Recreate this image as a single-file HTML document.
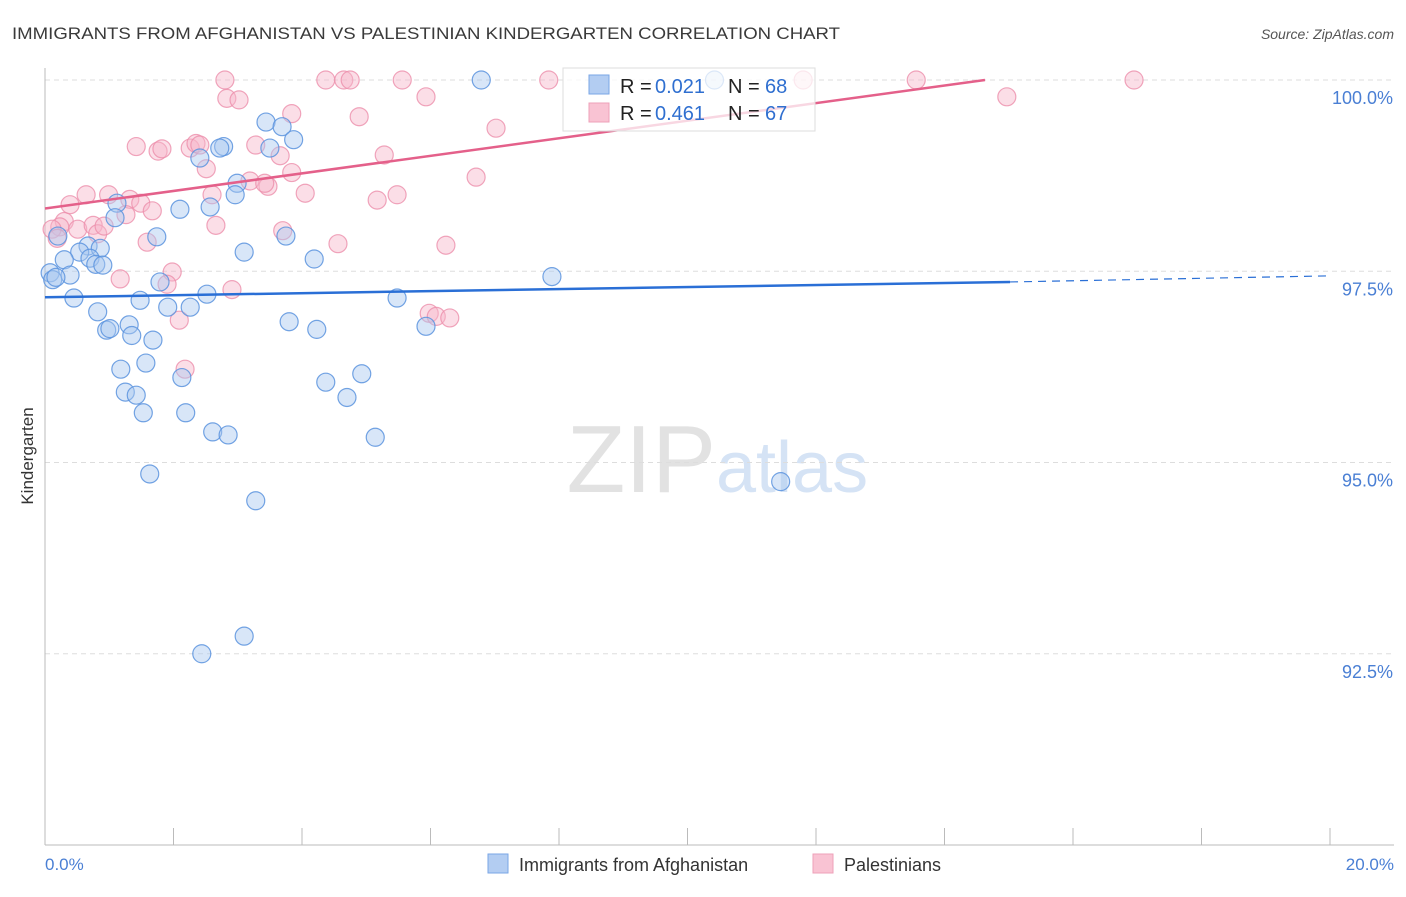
<!DOCTYPE html>
<html><head><meta charset="utf-8"><style>
body{margin:0;background:#fff;font-family:"Liberation Sans",sans-serif;}
svg text{font-family:"Liberation Sans",sans-serif;}
</style></head><body>
<svg width="1406" height="892" xmlns="http://www.w3.org/2000/svg">
<text x="12" y="39" font-size="17" textLength="828" lengthAdjust="spacingAndGlyphs" fill="#3a3a3a">IMMIGRANTS FROM AFGHANISTAN VS PALESTINIAN KINDERGARTEN CORRELATION CHART</text>
<text x="1394" y="39" font-size="14" fill="#555" font-style="italic" text-anchor="end">Source: ZipAtlas.com</text>
<text x="716" y="492" font-size="96" fill="#e2e2e2" font-family="Liberation Serif" text-anchor="end">ZIP</text>
<text x="716" y="492" font-size="72" fill="#d5e3f5">atlas</text>
<g id="grid"></g>
<line x1="45" y1="68" x2="45" y2="845" stroke="#bbb"/>
<line x1="45" y1="845" x2="1394" y2="845" stroke="#bbb"/>
<g id="xticks"></g>
<text x="33" y="456" font-size="17" fill="#333" transform="rotate(-90 33 456)" text-anchor="middle">Kindergarten</text>
<text x="45" y="870" font-size="17" fill="#4a7fd4">0.0%</text>
<text x="1394" y="870" font-size="17" fill="#4a7fd4" text-anchor="end">20.0%</text>
<g id="pts"></g>
<g id="lines"></g>
<g>
<rect x="563" y="68" width="252" height="63" fill="#fff" fill-opacity="0.75" stroke="#ddd"/>
<rect x="589" y="75" width="20" height="19" fill="#b3cdf2" stroke="#7aa6e6"/>
<rect x="589" y="103" width="20" height="19" fill="#f9c3d3" stroke="#eea0b8"/>
<text x="620" y="93" font-size="20" fill="#222">R =</text><text x="655" y="93" font-size="20" fill="#2f6fd0">0.021</text>
<text x="728" y="93" font-size="20" fill="#222">N =</text><text x="765" y="93" font-size="20" fill="#2f6fd0">68</text>
<text x="620" y="120" font-size="20" fill="#222">R =</text><text x="655" y="120" font-size="20" fill="#2f6fd0">0.461</text>
<text x="728" y="120" font-size="20" fill="#222">N =</text><text x="765" y="120" font-size="20" fill="#2f6fd0">67</text>
</g>
<g>
<rect x="488" y="854" width="20" height="19" fill="#b3cdf2" stroke="#7aa6e6"/>
<text x="519" y="871" font-size="18" fill="#333">Immigrants from Afghanistan</text>
<rect x="813" y="854" width="20" height="19" fill="#f9c3d3" stroke="#eea0b8"/>
<text x="844" y="871" font-size="18" fill="#333">Palestinians</text>
</g>
</svg>
<script>
const yTicks=[100,97.5,95,92.5];
const yTickLabels=["100.0%","97.5%","95.0%","92.5%"];
const xTickVals=[0,2,4,6,8,10,12,14,16,18,20];
const afgX=[6.79,10.42,3.44,3.69,3.87,2.78,2.72,3.50,2.41,2.99,2.96,2.10,2.57,1.12,1.09,0.20,1.74,0.67,0.86,0.54,3.10,3.75,4.19,0.30,0.70,0.79,0.90,0.39,0.08,0.12,0.17,1.79,7.89,2.52,0.45,1.48,2.26,1.91,5.48,0.82,3.80,4.23,5.93,0.96,1.31,1.01,1.35,1.68,1.18,1.57,4.93,2.13,4.37,1.25,1.42,4.70,1.53,2.19,2.61,2.85,5.14,1.63,11.45,3.28,3.10,2.44];
const afgY=[100.0,100.0,99.45,99.39,99.22,99.13,99.11,99.11,98.98,98.65,98.50,98.31,98.34,98.39,98.20,97.96,97.95,97.83,97.80,97.75,97.75,97.96,97.66,97.65,97.67,97.59,97.58,97.45,97.48,97.39,97.42,97.36,97.43,97.20,97.15,97.12,97.03,97.03,97.15,96.97,96.84,96.74,96.78,96.73,96.80,96.75,96.66,96.60,96.22,96.30,96.16,96.11,96.05,95.92,95.88,95.85,95.65,95.65,95.40,95.36,95.33,94.85,94.75,94.50,92.73,92.50];
const palX=[2.80,4.37,4.65,4.75,5.56,7.84,11.80,13.56,16.95,2.83,3.02,5.93,14.97,3.84,4.89,7.02,1.42,1.76,1.82,2.26,2.35,2.41,3.28,3.66,5.28,6.71,2.51,3.84,3.19,3.47,3.42,4.05,5.48,5.17,2.60,0.99,0.64,1.32,1.49,1.67,1.26,0.30,0.39,0.23,0.11,0.51,0.75,0.82,0.92,2.66,3.70,1.59,4.56,6.24,1.98,1.17,1.90,2.91,2.09,5.98,6.09,6.30,2.18,0.19];
const palY=[100.0,100.0,100.0,100.0,100.0,100.0,100.0,100.0,100.0,99.76,99.74,99.78,99.78,99.56,99.52,99.37,99.13,99.07,99.10,99.11,99.17,99.15,99.15,99.01,99.02,98.73,98.84,98.79,98.68,98.61,98.65,98.52,98.50,98.43,98.50,98.50,98.50,98.44,98.39,98.29,98.24,98.15,98.37,98.08,98.05,98.05,98.10,97.99,98.09,98.10,98.03,97.88,97.86,97.84,97.49,97.40,97.33,97.26,96.86,96.95,96.91,96.89,96.22,97.93];
const afgTrend=[0,97.16,15.02,97.36,20,97.44];
const palTrend=[0,98.32,14.63,100.0];
const X=v=>45+v*64.25, Y=v=>80+(100-v)*76.5;
const NS="http://www.w3.org/2000/svg";
function mk(tag,attrs,parent){const e=document.createElementNS(NS,tag);for(const k in attrs)e.setAttribute(k,attrs[k]);document.getElementById(parent).appendChild(e);return e;}
yTicks.forEach((t,i)=>{
 const l=mk('line',{x1:45,x2:1394,y1:Y(t),y2:Y(t),stroke:'#ddd','stroke-dasharray':'5,4'},'grid');
 
 
 const tx=mk('text',{x:1393,y:Y(t)+24,'font-size':18,fill:'#4a7fd4','text-anchor':'end'},'grid');
 tx.textContent=yTickLabels[i];
 
 
});
xTickVals.forEach(t=>{
 const l=mk('line',{x1:X(t),x2:X(t),y1:828,y2:845,stroke:'#bbb'},'xticks');
 
 
});
palX.forEach((v,i)=>{
 const c=mk('circle',{cx:X(v),cy:Y(palY[i]),r:9,fill:'#f7b6c9','fill-opacity':0.45,stroke:'#ec8fab','stroke-opacity':0.8,'stroke-width':1.2},'pts');
 
 
});
afgX.forEach((v,i)=>{
 const c=mk('circle',{cx:X(v),cy:Y(afgY[i]),r:9,fill:'#a9c8f0','fill-opacity':0.45,stroke:'#5b93de','stroke-opacity':0.85,'stroke-width':1.2},'pts');
 
 
});
let l1=mk('line',{x1:X(afgTrend[0]),y1:Y(afgTrend[1]),x2:X(afgTrend[2]),y2:Y(afgTrend[3]),stroke:'#2a6fd6','stroke-width':2.5},'lines');


let l2=mk('line',{x1:X(afgTrend[2]),y1:Y(afgTrend[3]),x2:X(afgTrend[4]),y2:Y(afgTrend[5]),stroke:'#2a6fd6','stroke-width':1.2,'stroke-dasharray':'8,6'},'lines');


let l3=mk('line',{x1:X(palTrend[0]),y1:Y(palTrend[1]),x2:X(palTrend[2]),y2:Y(palTrend[3]),stroke:'#e4608a','stroke-width':2.5},'lines');


</script>
</body></html>
